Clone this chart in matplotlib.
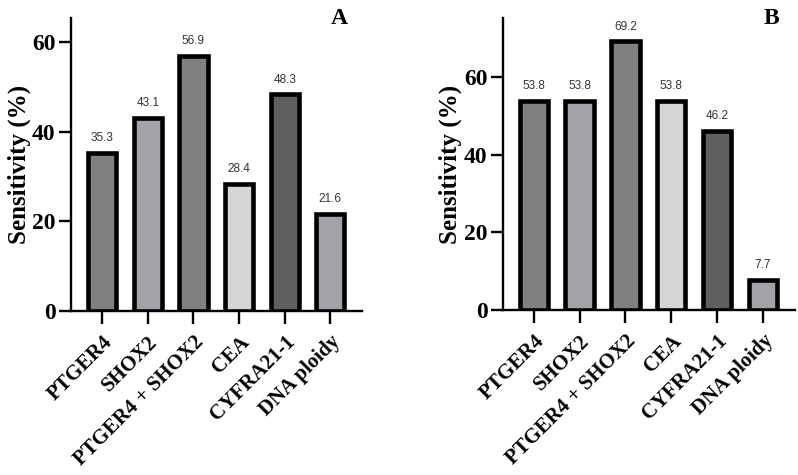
import matplotlib
matplotlib.use("Agg")
import matplotlib.pyplot as plt
import numpy as np

# data
categories = ["PTGER4", "SHOX2", "PTGER4 + SHOX2", "CEA", "CYFRA21-1", "DNA ploidy"]
sens_a = [35.3, 43.1, 56.9, 28.4, 48.3, 21.6]
sens_b = [53.8, 53.8, 69.2, 53.8, 46.2, 7.7]
bar_colors = ["#808080", "#a2a2a7", "#808080", "#d5d5d5", "#606060", "#a2a2a7"]

plt.rcParams["font.family"] = ["Liberation Serif", "DejaVu Serif"]

fig = plt.figure(figsize=(7.98, 4.75), dpi=100)
ax_a = fig.add_axes([0.089, 0.345, 0.365, 0.617])
ax_b = fig.add_axes([0.630, 0.347, 0.366, 0.615])


def draw_panel(ax, values, ymax, letter):
    x = np.arange(len(categories))
    bars = ax.bar(x, values, width=0.62, color=bar_colors, edgecolor="black",
                  linewidth=3.3, zorder=3)
    for b, v in zip(bars, values):
        ax.text(b.get_x() + b.get_width() / 2, v + ymax * 0.03, f"{v:.1f}",
                ha="center", va="bottom", fontsize=8.5, color="#333333",
                family="Liberation Sans")
    ax.set_xlim(-0.68, 5.7)
    ax.set_ylim(0, ymax)
    ax.set_yticks([0, 20, 40, 60])
    ax.set_xticks(x)
    ax.set_xticklabels(categories, rotation=45, ha="right", rotation_mode="anchor",
                       fontsize=15, fontweight="bold")
    for lab in ax.get_yticklabels():
        lab.set_fontsize(17)
        lab.set_fontweight("bold")
    ax.set_ylabel("Sensitivity (%)", fontsize=18, fontweight="bold", labelpad=1)
    for s in ["top", "right"]:
        ax.spines[s].set_visible(False)
    for s in ["left", "bottom"]:
        ax.spines[s].set_linewidth(1.7)
    ax.tick_params(axis="y", width=1.7, length=9, pad=2)
    ax.tick_params(axis="x", width=1.7, length=9, pad=6)
    ax.text(0.92, 1.0, letter, transform=ax.transAxes, fontsize=17,
            fontweight="bold", ha="center", va="center")


draw_panel(ax_a, sens_a, 65.3, "A")
draw_panel(ax_b, sens_b, 75.2, "B")

fig.savefig("out.png", dpi=100)
